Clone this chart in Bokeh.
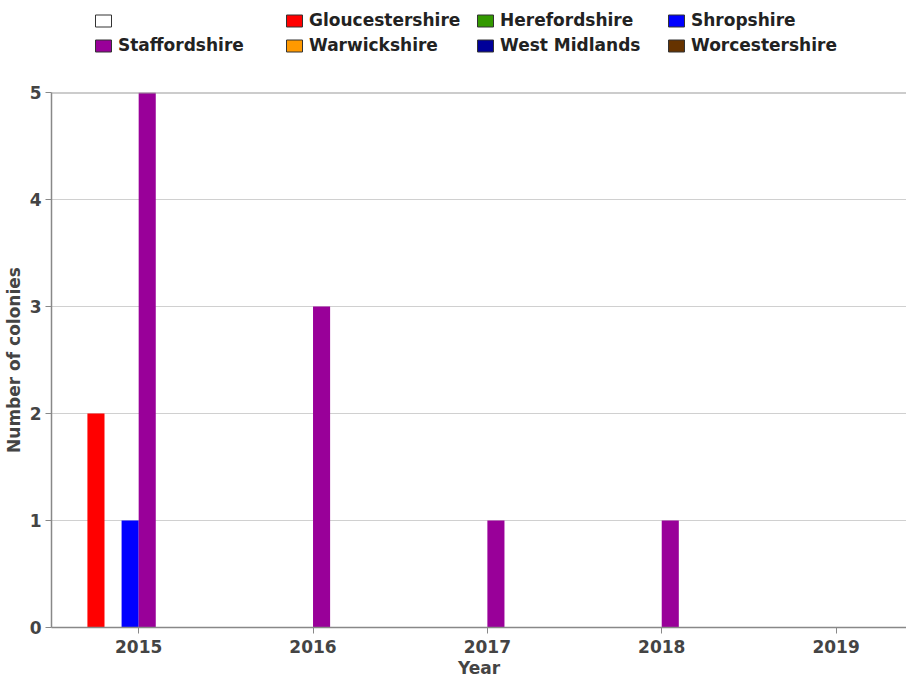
from bokeh.plotting import figure
from bokeh.layouts import column
from bokeh.models import Range1d, Legend, LegendItem, ColumnDataSource, Span, FixedTicker
from bokeh.transform import dodge
from bokeh.embed import file_html
from bokeh.resources import INLINE

years = [2015, 2016, 2017, 2018, 2019]
series = ["", "Gloucestershire", "Herefordshire", "Shropshire", "Staffordshire",
          "Warwickshire", "West Midlands", "Worcestershire"]
colors = ["#FFFFFF", "#FF0000", "#339900", "#0000FF", "#990099",
          "#FF9900", "#000099", "#663300"]
blank = [0, 0, 0, 0, 0]
gloucestershire = [2, 0, 0, 0, 0]
herefordshire = [0, 0, 0, 0, 0]
shropshire = [1, 0, 0, 0, 0]
staffordshire = [5, 3, 1, 1, 0]
warwickshire = [0, 0, 0, 0, 0]
west_midlands = [0, 0, 0, 0, 0]
worcestershire = [0, 0, 0, 0, 0]
values = [blank, gloucestershire, herefordshire, shropshire, staffordshire,
          warwickshire, west_midlands, worcestershire]
y_ticks = [0, 1, 2, 3, 4, 5]

bar_w = 0.098
FONT = "DejaVu Sans"
W = 906
LEFT = 51
FW = W - LEFT

# ---- legend strip (frame aligned with the main plot) ----
lg = figure(width=W, height=84, output_backend="svg", toolbar_location=None,
            x_range=Range1d(0, 1), y_range=Range1d(0, 1),
            min_border=0, min_border_left=LEFT, x_axis_type=None, y_axis_type=None)
lg.outline_line_color = None
lg.grid.visible = False

# ---- main plot ----
p = figure(frame_width=FW, frame_height=535, output_backend="svg", toolbar_location=None,
           x_range=Range1d(2014.5, 2014.5 + FW / 174.35), y_range=Range1d(0, 5),
           min_border_left=LEFT, min_border_right=0, min_border_top=8, min_border_bottom=0)
p.background_fill_color = "white"
p.border_fill_color = "white"
p.outline_line_color = None

data = {"year": years}
for i, v in enumerate(values):
    data["s%d" % i] = v
src = ColumnDataSource(data)

items = []
n = len(series)
for i, (name, col) in enumerate(zip(series, colors)):
    off = (i - (n - 1) / 2) * bar_w
    p.vbar(x=dodge("year", off, range=p.x_range), top="s%d" % i, width=bar_w,
           source=src, fill_color=col, line_color=None)
    # legend swatch renderer (lies outside the strip's range, so only the swatch shows)
    sw = lg.vbar(x=dodge("year", off, range=lg.x_range), top="s%d" % i, width=bar_w,
                 source=src, fill_color=col, line_color="#333333", line_width=1)
    items.append(LegendItem(label=name if name else " ", renderers=[sw]))

top_line = Span(location=max(y_ticks), dimension="width", line_color="#999999", line_width=2)
p.add_layout(top_line)

p.xaxis.ticker = FixedTicker(ticks=years)
p.yaxis.ticker = FixedTicker(ticks=y_ticks)
p.xgrid.grid_line_color = None
p.ygrid.grid_line_color = "#d0d0d0"
p.ygrid.grid_line_width = 1

for ax in (p.xaxis[0], p.yaxis[0]):
    ax.axis_line_color = "#888888"
    ax.axis_line_width = 1.5
    ax.major_tick_line_color = "#888888"
    ax.major_tick_in = 0
    ax.major_tick_out = 6
    ax.minor_tick_line_color = None
    ax.major_label_text_font = FONT
    ax.major_label_text_font_style = "bold"
    ax.major_label_text_font_size = "17px"
    ax.major_label_text_color = "#444444"
    ax.axis_label_text_font = FONT
    ax.axis_label_text_font_style = "bold"
    ax.axis_label_text_font_size = "17px"
    ax.axis_label_text_color = "#444444"

p.xaxis.axis_label = "Year"
p.yaxis.axis_label = "Number of colonies"
p.xaxis.major_label_standoff = 6
p.xaxis.axis_label_standoff = 2
p.yaxis.major_label_standoff = 4
p.yaxis.axis_label_standoff = 3

legend = Legend(items=items, location=(42, 28), orientation="horizontal", ncols=4,
                glyph_width=20, glyph_height=15, label_standoff=5, label_width=163,
                label_height=22, spacing=3, padding=0, margin=0,
                border_line_color=None, background_fill_alpha=0,
                label_text_font=FONT, label_text_font_style="bold",
                label_text_font_size="17px", label_text_color="#222222")
lg.add_layout(legend)

layout = column(lg, p, spacing=0)
open("out.html", "w").write(file_html(layout, INLINE))
